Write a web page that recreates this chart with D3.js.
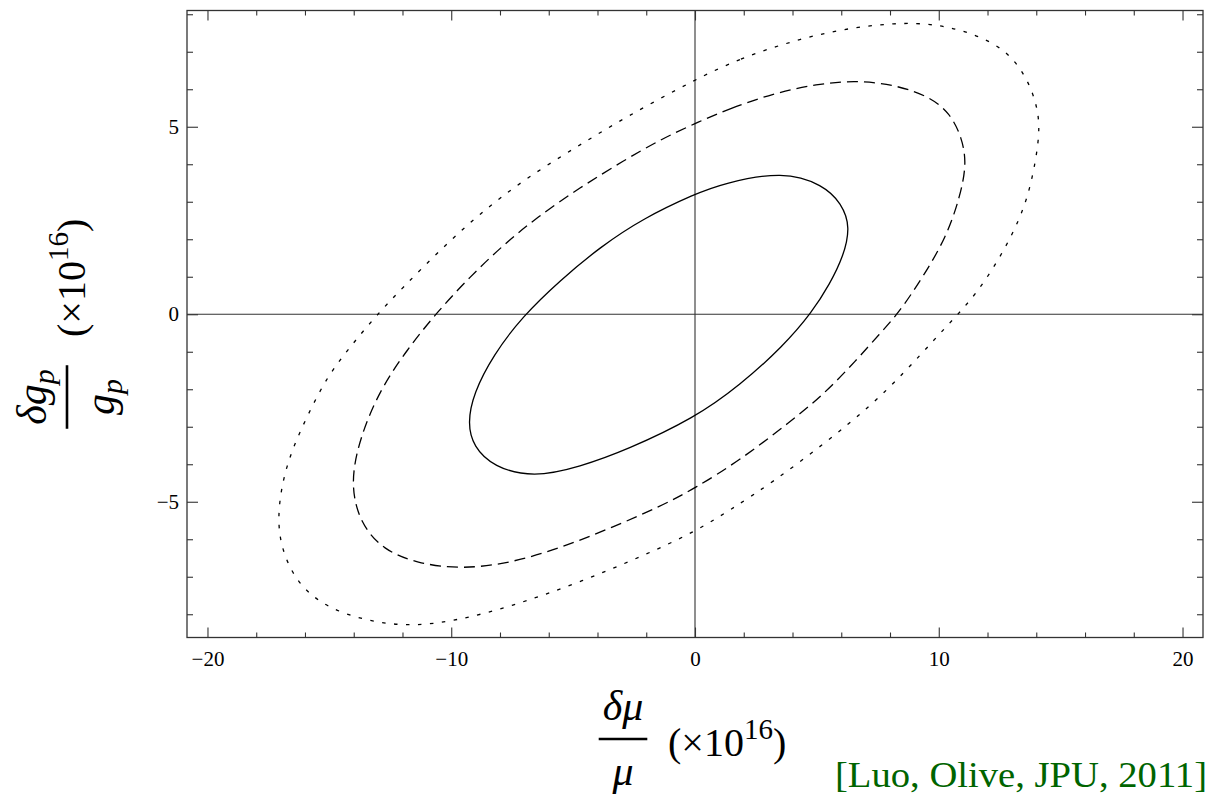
<!DOCTYPE html>
<html>
<head>
<meta charset="utf-8">
<script src="https://cdn.jsdelivr.net/npm/d3@7"></script>
<style>
  html, body { margin: 0; padding: 0; background: #fff; }
  svg { display: block; }
</style>
</head>
<body>
<svg id="chart" width="1209" height="796"></svg>
<script>
// ---------- data ----------
const xMajorTicks = [-20, -10, 0, 10, 20];
const xMinorTicks = [-18, -16, -14, -12, -8, -6, -4, -2, 2, 4, 6, 8, 12, 14, 16, 18];
const yMajorTicks = [-5, 0, 5];
const yMinorTicks = [-8, -7, -6, -4, -3, -2, -1, 1, 2, 3, 4, 6, 7, 8];

// contour points [δμ/μ, δg_p/g_p] (×10^16)
const solidContour = [
  [0, 3.21], [1.16, 3.49], [3.62, 3.82], [5.26, 3.45], [6.01, 2.96], [6.38, 2.33],
  [6.08, 1.53], [5.54, 0.82], [4.8, 0.05], [3.62, -0.85], [1.85, -1.89], [0, -2.76],
  [-2.8, -3.62], [-4.72, -4.07], [-6.63, -4.36], [-8.27, -4.07], [-9.09, -3.53],
  [-9.33, -2.91], [-9.09, -2.11], [-8.27, -1.08], [-7.08, -0.06], [-5.54, 0.9],
  [-3.9, 1.79], [-2.12, 2.56]
];
const dashedContour = [
  [0, 5.09], [1.44, 5.49], [3.21, 5.89], [4.99, 6.14], [6.63, 6.24], [8.27, 6.11],
  [9.64, 5.8], [10.46, 5.36], [10.94, 4.73], [11.15, 4.02], [10.87, 3.13], [10.32, 2.07],
  [9.36, 1.0], [8.34, 0.02], [7.59, -0.51], [6.63, -1.22], [5.26, -2.15], [3.9, -2.87],
  [1.85, -3.89], [0, -4.64], [-1.44, -5.13], [-3.49, -5.71], [-5.54, -6.24], [-7.59, -6.64],
  [-9.64, -6.8], [-11.41, -6.64], [-12.78, -6.29], [-13.74, -5.58], [-14.15, -4.51],
  [-13.74, -3.27], [-12.92, -2.01], [-11.82, -0.95], [-10.59, 0.05], [-9.23, 1.0],
  [-7.86, 1.85], [-6.49, 2.58], [-4.72, 3.38], [-2.94, 4.09], [-1.44, 4.65]
];
const dottedContour = [
  [0, 6.26], [1.85, 6.82], [3.9, 7.27], [5.95, 7.6], [8.27, 7.78], [9.91, 7.74],
  [11.42, 7.49], [12.78, 7.05], [13.6, 6.33], [14.01, 5.62], [14.15, 5.0], [14.01, 4.2],
  [13.67, 3.13], [13.12, 2.25], [12.37, 1.36], [11.55, 0.56], [10.73, -0.04], [9.77, -0.71],
  [8.68, -1.49], [7.17, -2.47], [5.4, -3.4], [3.21, -4.47], [1.44, -5.22], [0, -5.8],
  [-2.12, -6.44], [-4.85, -7.18], [-7.59, -7.8], [-9.64, -8.15], [-11.55, -8.33],
  [-13.33, -8.2], [-15.1, -7.84], [-16.33, -7.18], [-16.95, -6.29], [-17.13, -5.49],
  [-16.95, -4.51], [-16.54, -3.62], [-15.92, -2.73], [-15.1, -1.67], [-14.15, -0.87],
  [-13.06, -0.02], [-11.96, 0.73], [-10.46, 1.71], [-8.82, 2.69], [-7.04, 3.58],
  [-4.85, 4.47], [-2.8, 5.27]
];
const citation = "[Luo, Olive, JPU, 2011]";

// ---------- layout ----------
const svg = d3.select("#chart");
const L = 187, R = 1203, T = 10.5, B = 637.5;
const x = d3.scaleLinear().domain([-20.84, 20.84]).range([L, R]);
const y = d3.scaleLinear().domain([-8.62, 8.1]).range([B, T]);
const frameColor = "#333";
const serif = "'Liberation Serif', Tinos, 'Times New Roman', Times, serif";

// axis lines through origin
svg.append("line").attr("x1", x(0)).attr("x2", x(0)).attr("y1", T).attr("y2", B)
  .attr("stroke", frameColor).attr("stroke-width", 1.1);
svg.append("line").attr("x1", L).attr("x2", R).attr("y1", y(0)).attr("y2", y(0))
  .attr("stroke", frameColor).attr("stroke-width", 1.1);

// contours
const line = d3.line().x(d => x(d[0])).y(d => y(d[1])).curve(d3.curveBasisClosed);
const contours = [
  { data: dottedContour, dash: "3.5,8.5" },
  { data: dashedContour, dash: "11,6" },
  { data: solidContour, dash: null }
];
svg.append("g").selectAll("path").data(contours).join("path")
  .attr("d", d => line(d.data))
  .attr("fill", "none")
  .attr("stroke", "#000")
  .attr("stroke-width", 1.3)
  .attr("stroke-dasharray", d => d.dash);

// ticks (inward, all four sides)
function styleAxis(g) {
  g.select(".domain").remove();
  g.selectAll(".tick line").attr("stroke", frameColor).attr("stroke-width", 1.1);
  g.selectAll(".tick text").attr("font-family", serif).attr("font-size", 21).attr("fill", "#000");
}
const fmt = d3.format("d");
svg.append("g").attr("transform", `translate(0,${B})`)
  .call(d3.axisBottom(x).tickValues(xMajorTicks).tickSize(-10).tickPadding(14).tickFormat(fmt)).call(styleAxis);
svg.append("g").attr("transform", `translate(0,${B})`)
  .call(d3.axisBottom(x).tickValues(xMinorTicks).tickSize(-5).tickFormat("")).call(styleAxis);
svg.append("g").attr("transform", `translate(0,${T})`)
  .call(d3.axisTop(x).tickValues(xMajorTicks).tickSize(-10).tickFormat("")).call(styleAxis);
svg.append("g").attr("transform", `translate(0,${T})`)
  .call(d3.axisTop(x).tickValues(xMinorTicks).tickSize(-5).tickFormat("")).call(styleAxis);
svg.append("g").attr("transform", `translate(${L},0)`)
  .call(d3.axisLeft(y).tickValues(yMajorTicks).tickSize(-11).tickPadding(8).tickFormat(fmt)).call(styleAxis);
svg.append("g").attr("transform", `translate(${L},0)`)
  .call(d3.axisLeft(y).tickValues(yMinorTicks).tickSize(-6).tickFormat("")).call(styleAxis);
svg.append("g").attr("transform", `translate(${R},0)`)
  .call(d3.axisRight(y).tickValues(yMajorTicks).tickSize(-11).tickFormat("")).call(styleAxis);
svg.append("g").attr("transform", `translate(${R},0)`)
  .call(d3.axisRight(y).tickValues(yMinorTicks).tickSize(-6).tickFormat("")).call(styleAxis);

// frame
svg.append("rect").attr("x", L).attr("y", T).attr("width", R - L).attr("height", B - T)
  .attr("fill", "none").attr("stroke", frameColor).attr("stroke-width", 1.3);

// ---------- axis labels ----------
function fractionLabel(g, numParts, denParts, numBase, denBase, fs) {
  const num = g.append("text").attr("x", 0).attr("y", numBase).attr("text-anchor", "middle")
    .attr("font-family", serif).attr("font-style", "italic").attr("font-size", fs);
  numParts.forEach(p => num.append("tspan").attr("dy", p.dy || 0).attr("font-size", p.fs || fs).text(p.t));
  const den = g.append("text").attr("x", 0).attr("y", denBase).attr("text-anchor", "middle")
    .attr("font-family", serif).attr("font-style", "italic").attr("font-size", fs);
  denParts.forEach(p => den.append("tspan").attr("dy", p.dy || 0).attr("font-size", p.fs || fs).text(p.t));
  const w = num.node().getComputedTextLength();
  g.append("line").attr("x1", -w / 2 - 4).attr("x2", w / 2 + 4).attr("y1", 0).attr("y2", 0)
    .attr("stroke", "#000").attr("stroke-width", 2.6);
}
function scaleLabel(g, x0, base) {
  const t = g.append("text").attr("x", x0).attr("y", base)
    .attr("font-family", serif).attr("font-size", 40);
  t.append("tspan").text("(×10");
  t.append("tspan").attr("font-size", 29).attr("dy", -17).text("16");
  t.append("tspan").attr("dy", 17).text(")");
}

// x label
const gx = svg.append("g").attr("transform", "translate(623,739)");
fractionLabel(gx, [{ t: "δμ" }], [{ t: "μ" }], -19, 46, 42);
scaleLabel(gx, 45, 17);

// y label
const gy = svg.append("g").attr("transform", "translate(67,397) rotate(-90)");
fractionLabel(gy, [{ t: "δg" }, { t: "p", fs: 30, dy: 8 }], [{ t: "g" }, { t: "p", fs: 30, dy: 8 }], -21, 47, 42);
scaleLabel(gy, 60, 18);

// citation
svg.append("text").attr("x", 835).attr("y", 787)
  .attr("font-family", serif).attr("font-size", 36).attr("fill", "#006400")
  .attr("textLength", 372).attr("lengthAdjust", "spacingAndGlyphs")
  .text(citation);
</script>
</body>
</html>
